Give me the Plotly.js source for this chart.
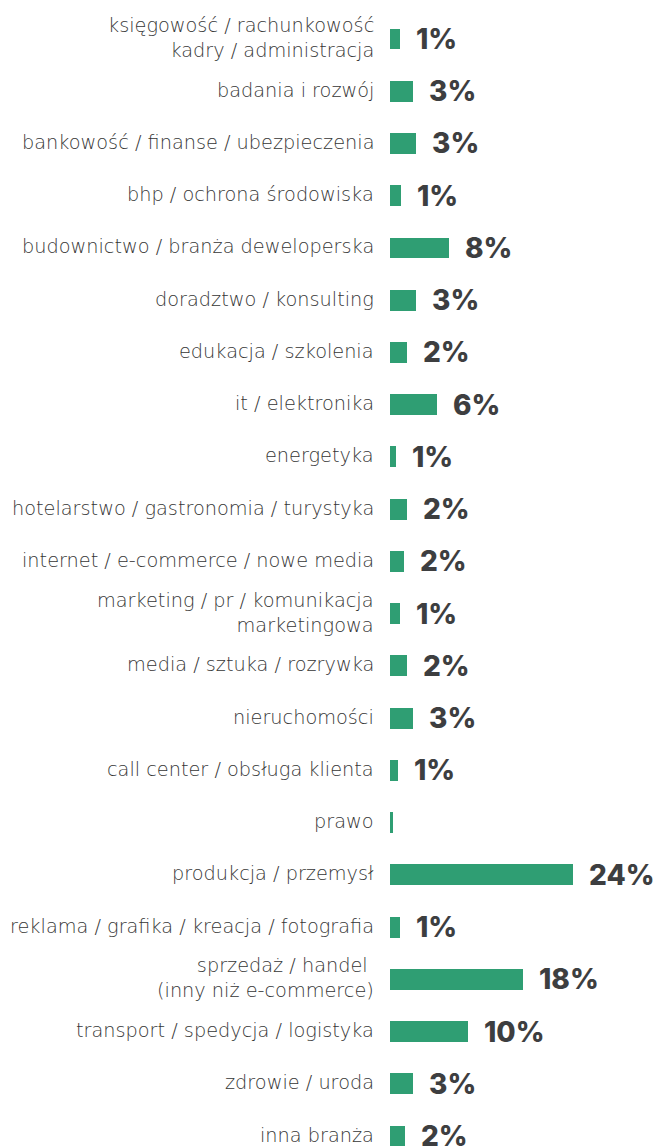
<!DOCTYPE html>
<html>
<head>
<meta charset="utf-8">
<script src="https://cdn.plot.ly/plotly-3.0.1.min.js"></script>
<style>
  html, body { margin: 0; padding: 0; background: #ffffff; }
  #chart { width: 655px; height: 1146px; }
</style>
</head>
<body>
<div id="chart"></div>
<script>
const categories = [
  "księgowość / rachunkowość<br>kadry / administracja",
  "badania i rozwój",
  "bankowość / finanse / ubezpieczenia",
  "bhp / ochrona środowiska",
  "budownictwo / branża deweloperska",
  "doradztwo / konsulting",
  "edukacja / szkolenia",
  "it / elektronika",
  "energetyka",
  "hotelarstwo / gastronomia / turystyka",
  "internet / e-commerce / nowe media",
  "marketing / pr / komunikacja<br>marketingowa",
  "media / sztuka / rozrywka",
  "nieruchomości",
  "call center / obsługa klienta",
  "prawo",
  "produkcja / przemysł",
  "reklama / grafika / kreacja / fotografia",
  "sprzedaż / handel <br>(inny niż e-commerce)",
  "transport / spedycja / logistyka",
  "zdrowie / uroda",
  "inna branża"
];
const values = [1.3, 3.0, 3.4, 1.4, 7.8, 3.4, 2.2, 6.2, 0.8, 2.2, 1.8, 1.3, 2.2, 3.0, 1.0, 0.4, 24.0, 1.3, 17.5, 10.3, 3.0, 2.0];
const valueLabels = ["1%", "3%", "3%", "1%", "8%", "3%", "2%", "6%", "1%", "2%", "2%", "1%", "2%", "3%", "1%", "", "24%", "1%", "18%", "10%", "3%", "2%"];

const idx = categories.map((_, i) => i);

const trace = {
  type: 'bar',
  orientation: 'h',
  x: values,
  y: idx,
  width: 0.4,
  marker: { color: '#2f9e73' },
  hoverinfo: 'skip'
};

const valueAnnotations = values.map((v, i) => ({
  x: v, y: i, xref: 'x', yref: 'y',
  text: valueLabels[i],
  showarrow: false,
  xanchor: 'left', yanchor: 'middle',
  xshift: 14,
  font: { family: 'Inter, sans-serif', size: 28, weight: 800, color: '#3d3e40' }
}));

const categoryAnnotations = categories.map((c, i) => ({
  x: 0, y: i, xref: 'paper', yref: 'y',
  text: c,
  showarrow: false,
  xanchor: 'right', yanchor: 'middle', align: 'right',
  xshift: -14,
  yshift: 1,
  font: { family: '"DejaVu Sans", sans-serif', size: 19.3, weight: 200, color: '#363636' }
}));

const layout = {
  width: 655, height: 1146,
  margin: { l: 390, r: 0, t: 0, b: 0, pad: 0 },
  paper_bgcolor: '#ffffff', plot_bgcolor: '#ffffff',
  showlegend: false,
  bargap: 0,
  xaxis: { range: [0, 34.8], visible: false, fixedrange: true },
  yaxis: {
    range: [21.19, -0.7466],
    showticklabels: false,
    ticks: '',
    showgrid: false, zeroline: false, showline: false,
    fixedrange: true
  },
  annotations: categoryAnnotations.concat(valueAnnotations)
};

Plotly.newPlot('chart', [trace], layout, { displayModeBar: false, staticPlot: true });
</script>
</body>
</html>
